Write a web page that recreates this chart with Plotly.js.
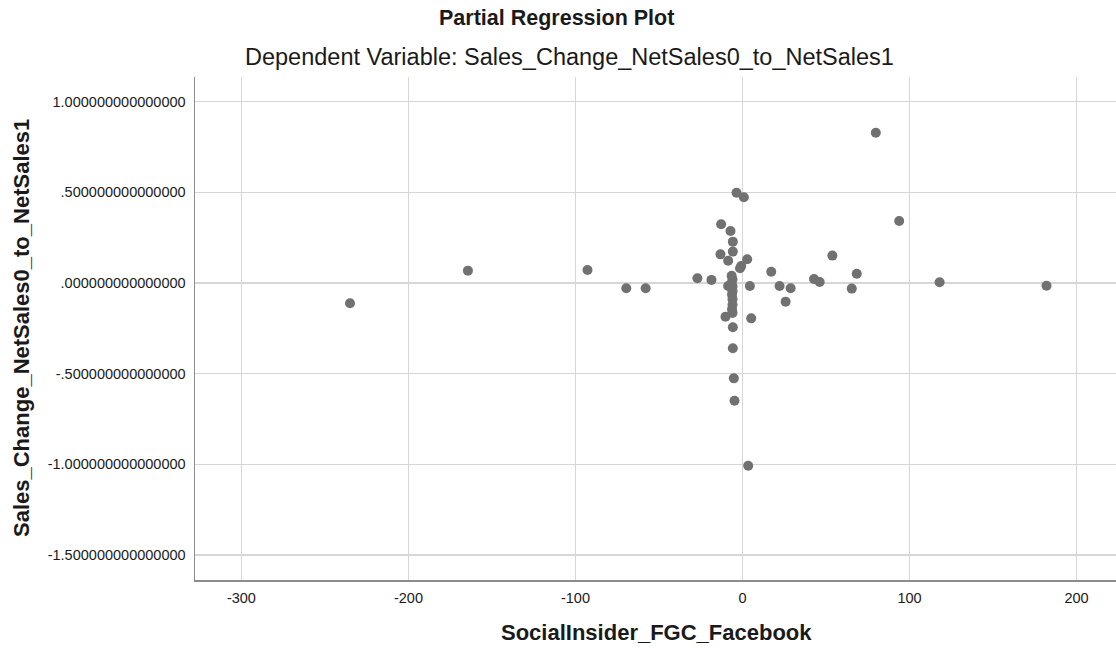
<!DOCTYPE html>
<html>
<head>
<meta charset="utf-8">
<script src="https://cdn.plot.ly/plotly-3.0.1.min.js"></script>
<style>html,body{margin:0;padding:0;background:#fff;}#chart{width:1116px;height:650px;}</style>
</head>
<body>
<div id="chart"></div>
<script>
// Data
const xValues = [-235, -164.4, -92.8, -69.6, -58, -27, -18.6, -3.6, 0.8, -12.8, -7.2, -5.8, -13.2, -5.8, -8.6, 2.8, -0.8, -1.5, 17.2, 42.8, 46.2, -8.6, 4.4, 22.2, 28.8, 25.8, -10.2, 5.2, -5.8, -5.8, -5.2, -4.8, 3.4, 79.8, 93.8, 53.8, 68.4, 65.4, 118, 182, -6.5, -6, -6.5, -6, -6, -6.3, -6, -6, -6.3, -6];
const yValues = [-0.112, 0.068, 0.072, -0.029, -0.029, 0.026, 0.017, 0.498, 0.473, 0.324, 0.287, 0.228, 0.158, 0.173, 0.123, 0.131, 0.094, 0.081, 0.062, 0.022, 0.005, -0.017, -0.017, -0.017, -0.029, -0.103, -0.186, -0.195, -0.244, -0.36, -0.526, -0.649, -1.008, 0.829, 0.342, 0.151, 0.051, -0.031, 0.004, -0.015, 0.04, 0.02, 0.0, -0.02, -0.045, -0.065, -0.09, -0.12, -0.145, -0.165];
const xTickVals = [-300, -200, -100, 0, 100, 200];
const xTickText = ["-300", "-200", "-100", "0", "100", "200"];
const yTickVals = [1.0, 0.5, 0.0, -0.5, -1.0, -1.5];
const yTickText = ["1.000000000000000", ".500000000000000", ".000000000000000", "-.500000000000000", "-1.000000000000000", "-1.500000000000000"];
const chartTitle = 'Partial Regression Plot';
const chartSubtitle = 'Dependent Variable: Sales_Change_NetSales0_to_NetSales1';
const xTitle = 'SocialInsider_FGC_Facebook';
const yTitle = 'Sales_Change_NetSales0_to_NetSales1';

const W = 1116, H = 650;
const M = {l: 195, r: 0, t: 77, b: 70};
const pw = W - M.l - M.r, ph = H - M.t - M.b;
const px = (X) => (X - M.l) / pw;          // pixel -> paper x
const py = (Y) => (H - M.b - Y) / ph;      // pixel -> paper y

const trace = {
  x: xValues, y: yValues, type: 'scatter', mode: 'markers',
  marker: {color: '#717171', size: 10, line: {width: 0}},
  hoverinfo: 'x+y', showlegend: false
};

const layout = {
  width: W, height: H,
  paper_bgcolor: '#fff', plot_bgcolor: '#fff',
  margin: M,
  font: {family: 'Liberation Sans, Arial, sans-serif', color: '#1a1a1a'},
  xaxis: {
    range: [-327.8, 223.6], tickvals: xTickVals, ticktext: xTickText,
    showgrid: true, gridcolor: '#d6d6d6', gridwidth: 1.5,
    zeroline: false, showline: true, linecolor: '#8c8c8c', linewidth: 1.5,
    ticks: 'outside', ticklen: 4, tickcolor: 'rgba(0,0,0,0)',
    tickfont: {size: 14.5, color: '#1a1a1a'}
  },
  yaxis: {
    range: [-1.638, 1.136], tickvals: yTickVals, ticktext: yTickText,
    showgrid: true, gridcolor: '#d6d6d6', gridwidth: 1.5,
    zeroline: false, showline: true, linecolor: '#8c8c8c', linewidth: 1.5,
    ticks: 'outside', ticklen: 5, tickcolor: 'rgba(0,0,0,0)',
    tickfont: {size: 14.5, color: '#1a1a1a'}
  },
  annotations: [
    {text: '<b>' + chartTitle + '</b>', xref: 'paper', yref: 'paper',
     x: px(556), y: py(18), showarrow: false,
     xanchor: 'center', yanchor: 'middle', font: {size: 21.5, color: '#1a1a1a'}},
    {text: chartSubtitle, xref: 'paper', yref: 'paper',
     x: px(569), y: py(57), showarrow: false,
     xanchor: 'center', yanchor: 'middle', font: {size: 23.5, color: '#1a1a1a'}},
    {text: '<b>' + xTitle + '</b>', xref: 'paper', yref: 'paper',
     x: px(656), y: py(632), showarrow: false,
     xanchor: 'center', yanchor: 'middle', font: {size: 22, color: '#1a1a1a'}},
    {text: '<b>' + yTitle + '</b>', xref: 'paper', yref: 'paper',
     x: px(21), y: py(328), showarrow: false, textangle: -90,
     xanchor: 'center', yanchor: 'middle', font: {size: 22, color: '#1a1a1a'}}
  ]
};
Plotly.newPlot('chart', [trace], layout, {displayModeBar: false, staticPlot: true});
</script>
</body>
</html>
